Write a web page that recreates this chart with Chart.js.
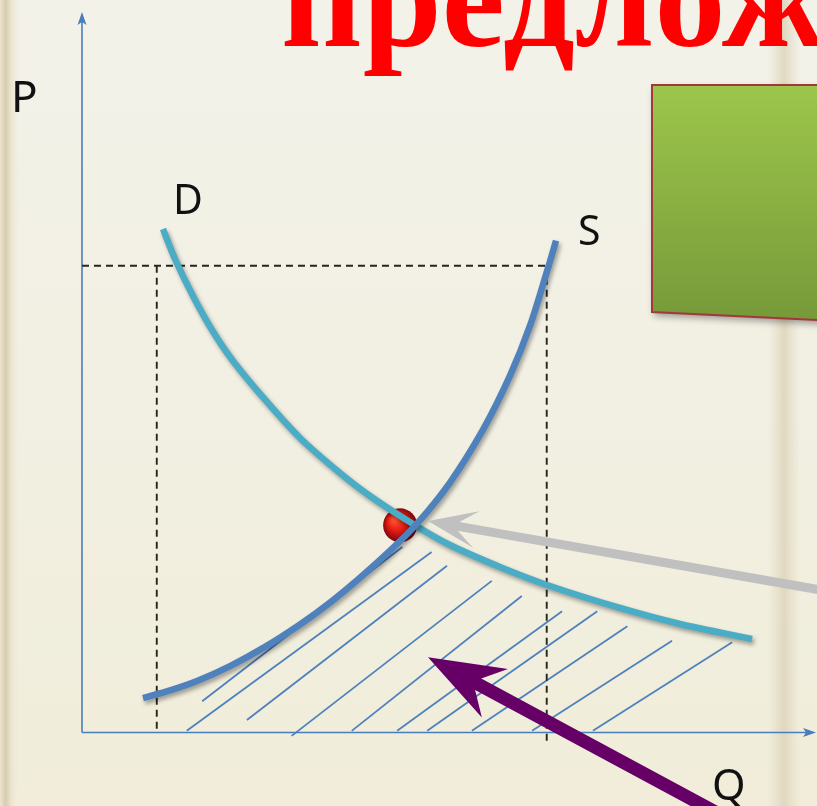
<!DOCTYPE html>
<html>
<head>
<meta charset="utf-8">
<script src="https://cdn.jsdelivr.net/npm/chart.js@4.4.1/dist/chart.umd.min.js"></script>
<style>
    html, body { margin: 0; padding: 0; overflow: hidden; background: #f3f2e9; }
    canvas { display: block; }
</style>
</head>
<body>
<canvas id="chartSupplyDemand" width="817" height="806"></canvas>
<script>
// demand curve D
const demandQ = [11.05, 12.69, 15.14, 17.74, 20.60, 25.24, 29.74, 35.20, 39.29, 45.16, 50.20, 57.03, 63.44, 73.40, 81.58, 91.41];
const demandP = [69.90, 65.74, 60.61, 55.89, 51.60, 45.91, 40.92, 36.06, 32.87, 28.99, 26.07, 23.02, 20.53, 17.34, 15.12, 13.04];

// supply curve S
const supplyQ = [8.32, 12.01, 15.69, 20.19, 24.97, 29.74, 33.83, 37.93, 42.03, 45.70, 50.20, 54.71, 58.39, 61.12, 63.44, 64.67];
const supplyP = [4.85, 5.91, 7.21, 9.28, 11.94, 15.05, 18.09, 21.54, 25.28, 29.03, 34.74, 42.07, 49.56, 56.49, 64.04, 68.28];

// hatch segments under the curves
const hatchFromQ = [16.4, 14.3, 22.5, 28.6, 36.8, 43.0, 47.1, 53.2, 61.4, 69.7];
const hatchFromP = [4.4, 0.3, 1.8, -0.4, 0.3, 0.3, 0.3, 0.3, 0.3, 0.3];
const hatchToQ = [43.7, 47.7, 49.8, 55.9, 60.0, 65.5, 70.3, 74.4, 80.5, 88.7];
const hatchToP = [25.8, 25.1, 23.2, 21.1, 19.0, 16.9, 16.9, 14.8, 12.8, 12.6];

// dashed guides
const priceHigh = 64.8;
const qtyLow = 10.2;
const qtyHigh = 63.4;

const equilibrium = { q: 43.4, p: 28.8 };

const axisTitles = { price: 'P', quantity: 'Q', demand: 'D', supply: 'S' };
const slideTitle = 'предлож';

const colors = {
    supply: '#4f81bd',
    demand: '#4bacc6',
    axis: '#4a7ebb',
    guide: '#26261a',
    hatch: '#4f81bd',
};

const pts = (xs, ys) => xs.map((x, i) => ({ x, y: ys[i] }));

const guideStyle = { borderColor: colors.guide, borderWidth: 1.9, borderDash: [7, 5], order: 2 };

const datasets = [
    {
        label: 'S',
        data: pts(supplyQ, supplyP),
        borderColor: colors.supply,
        borderWidth: 6.5,
        tension: 0.3,
        order: 0,
    },
    {
        label: 'D',
        data: pts(demandQ, demandP),
        borderColor: colors.demand,
        borderWidth: 6.5,
        tension: 0.3,
        order: 1,
    },
    { label: 'guide', data: [{ x: 0, y: priceHigh }, { x: qtyHigh, y: priceHigh }], ...guideStyle },
    { label: 'guide', data: [{ x: qtyLow, y: priceHigh }, { x: qtyLow, y: 0 }], ...guideStyle },
    { label: 'guide', data: [{ x: qtyHigh, y: priceHigh }, { x: qtyHigh, y: -1.7 }], ...guideStyle },
];

hatchFromQ.forEach((q, i) => {
    datasets.push({
        label: 'hatch',
        data: [{ x: q, y: hatchFromP[i] }, { x: hatchToQ[i], y: hatchToP[i] }],
        borderColor: colors.hatch,
        borderWidth: 1.8,
        order: 3,
    });
});

datasets.forEach((ds) => {
    ds.showLine = true;
    ds.pointRadius = 0;
    ds.borderCapStyle = 'butt';
    ds.clip = false;
    ds.fill = false;
});

function drawArrow(ctx, tip, tail, o) {
    const dx = tail.x - tip.x;
    const dy = tail.y - tip.y;
    const len = Math.hypot(dx, dy);
    const ux = dx / len;
    const uy = dy / len;
    const px = -uy;
    const py = ux;
    const at = (a, p) => [tip.x + ux * a + px * p, tip.y + uy * a + py * p];
    const poly = [
        [tip.x, tip.y],
        at(o.head, -o.barb),
        at(o.notch, -o.half),
        at(len, -o.half),
        at(len, o.half),
        at(o.notch, o.half),
        at(o.head, o.barb),
    ];
    ctx.beginPath();
    poly.forEach(([x, y], i) => (i ? ctx.lineTo(x, y) : ctx.moveTo(x, y)));
    ctx.closePath();
    ctx.fillStyle = o.color;
    ctx.fill();
}

const slidePlugin = {
    id: 'slide',
    beforeDraw(chart) {
        const { ctx, width, height } = chart;
        ctx.save();
        ctx.fillStyle = '#f3f2e9';
        ctx.fillRect(0, 0, width, height);

        const bottom = ctx.createLinearGradient(0, 0, 0, height);
        bottom.addColorStop(0, 'rgba(240,236,214,0)');
        bottom.addColorStop(1, 'rgba(238,233,206,0.6)');
        ctx.fillStyle = bottom;
        ctx.fillRect(0, 0, width, height);

        const left = ctx.createLinearGradient(0, 0, 22, 0);
        left.addColorStop(0, '#eee4cf');
        left.addColorStop(0.25, '#d8cdb2');
        left.addColorStop(0.5, '#ebe3cf');
        left.addColorStop(1, 'rgba(243,242,233,0)');
        ctx.fillStyle = left;
        ctx.fillRect(0, 0, 22, height);

        const right = ctx.createLinearGradient(768, 0, 800, 0);
        right.addColorStop(0, 'rgba(226,218,196,0)');
        right.addColorStop(0.5, 'rgba(222,213,188,0.9)');
        right.addColorStop(1, 'rgba(226,218,196,0)');
        ctx.fillStyle = right;
        ctx.fillRect(768, 0, 32, height);

        // title
        ctx.fillStyle = '#ff0000';
        ctx.font = 'bold 142px "Liberation Serif", serif';
        ctx.textBaseline = 'alphabetic';
        ctx.fillText(slideTitle, 281, 46);

        // green box
        ctx.save();
        ctx.shadowColor = 'rgba(0,0,0,0.35)';
        ctx.shadowBlur = 7;
        ctx.shadowOffsetX = 2;
        ctx.shadowOffsetY = 4;
        const g = ctx.createLinearGradient(0, 85, 0, 320);
        g.addColorStop(0, '#9cc64b');
        g.addColorStop(1, '#779a39');
        ctx.beginPath();
        ctx.moveTo(652, 85);
        ctx.lineTo(825, 85);
        ctx.lineTo(825, 320.5);
        ctx.lineTo(652, 312);
        ctx.closePath();
        ctx.fillStyle = g;
        ctx.fill();
        ctx.restore();
        ctx.strokeStyle = '#a3383c';
        ctx.lineWidth = 2;
        ctx.stroke();
        ctx.restore();
    },
    beforeDatasetsDraw(chart) {
        const { ctx, chartArea, scales } = chart;
        ctx.save();
        ctx.strokeStyle = colors.axis;
        ctx.fillStyle = colors.axis;
        ctx.lineWidth = 1.6;
        const x0 = chartArea.left;
        const y0 = chartArea.bottom - 0.5;
        ctx.beginPath();
        ctx.moveTo(x0, y0);
        ctx.lineTo(x0, chartArea.top + 4);
        ctx.moveTo(x0, y0);
        ctx.lineTo(chartArea.right - 4, y0);
        ctx.stroke();
        // arrowheads
        ctx.beginPath();
        ctx.moveTo(x0, chartArea.top);
        ctx.lineTo(x0 + 4.5, chartArea.top + 13);
        ctx.lineTo(x0, chartArea.top + 10);
        ctx.lineTo(x0 - 4.5, chartArea.top + 13);
        ctx.closePath();
        ctx.fill();
        ctx.beginPath();
        ctx.moveTo(chartArea.right + 1, y0);
        ctx.lineTo(chartArea.right - 12, y0 - 4.5);
        ctx.lineTo(chartArea.right - 9, y0);
        ctx.lineTo(chartArea.right - 12, y0 + 4.5);
        ctx.closePath();
        ctx.fill();

        // equilibrium ball
        const bx = scales.x.getPixelForValue(equilibrium.q);
        const by = scales.y.getPixelForValue(equilibrium.p);
        const rg = ctx.createRadialGradient(bx - 6, by - 6, 2, bx, by, 18);
        rg.addColorStop(0, '#ff5030');
        rg.addColorStop(0.45, '#e41a12');
        rg.addColorStop(0.8, '#9a0c10');
        rg.addColorStop(1, '#6a0a12');
        ctx.beginPath();
        ctx.arc(bx, by, 17, 0, Math.PI * 2);
        ctx.fillStyle = rg;
        ctx.fill();
        ctx.restore();
    },
    beforeDatasetDraw(chart, args) {
        const ds = chart.data.datasets[args.index];
        chart.ctx.save();
        if (ds.label === 'S' || ds.label === 'D') {
            chart.ctx.shadowColor = 'rgba(0,0,0,0.35)';
            chart.ctx.shadowBlur = 4;
            chart.ctx.shadowOffsetX = 2;
            chart.ctx.shadowOffsetY = 3;
        }
    },
    afterDatasetDraw(chart) {
        chart.ctx.restore();
    },
    afterDatasetsDraw(chart) {
        const { ctx, scales } = chart;
        const px = (q, p) => ({ x: scales.x.getPixelForValue(q), y: scales.y.getPixelForValue(p) });
        ctx.save();
        drawArrow(ctx, px(47.2, 29.4), px(101, 19.8), {
            head: 49, barb: 18.5, notch: 31, half: 4.5, color: '#c0c0c0',
        });
        drawArrow(ctx, px(47.2, 10.5), px(86.5, -11), {
            head: 76, barb: 27.5, notch: 57, half: 6.5, color: '#660066',
        });

        ctx.fillStyle = '#111111';
        ctx.textBaseline = 'alphabetic';
        ctx.font = '44px "Noto Sans", sans-serif';
        ctx.fillText(axisTitles.price, 11, 112);
        ctx.font = '41px "Noto Sans", sans-serif';
        ctx.fillText(axisTitles.demand, 173, 214);
        ctx.fillText(axisTitles.supply, 578, 245);
        ctx.font = '43px "Noto Sans", sans-serif';
        ctx.fillText(axisTitles.quantity, 712, 800);
        ctx.restore();
    },
};

new Chart(document.getElementById('chartSupplyDemand'), {
    type: 'scatter',
    data: { datasets },
    options: {
        responsive: false,
        animation: false,
        devicePixelRatio: 1,
        events: [],
        layout: { padding: { left: 82, right: 2, top: 12, bottom: 73 } },
        plugins: {
            legend: { display: false },
            tooltip: { enabled: false },
        },
        scales: {
            x: { type: 'linear', min: 0, max: 100, display: false },
            y: { type: 'linear', min: 0, max: 100, display: false },
        },
    },
    plugins: [slidePlugin],
});
</script>
</body>
</html>
